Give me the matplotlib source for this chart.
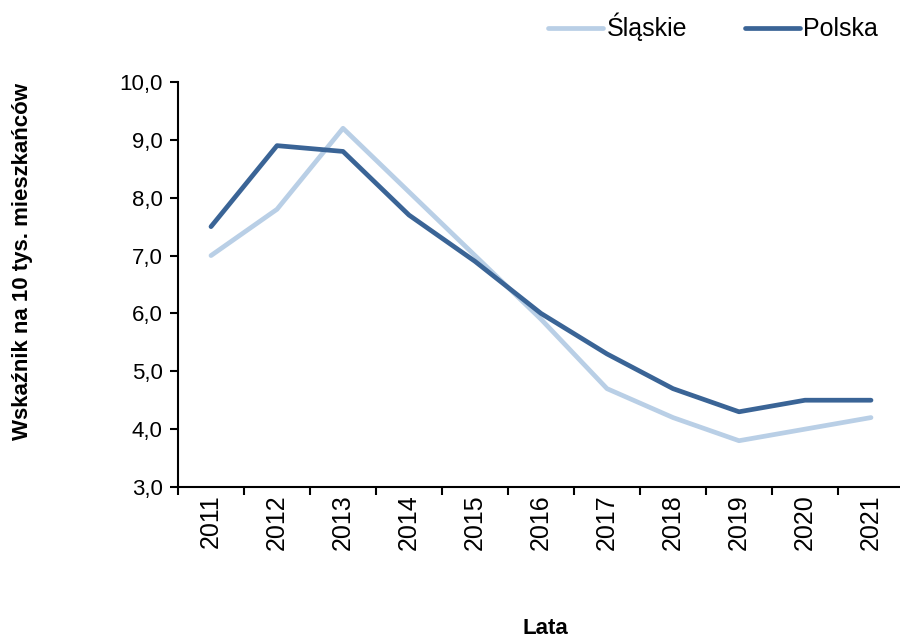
import matplotlib
matplotlib.use("Agg")
import matplotlib.pyplot as plt
from matplotlib.ticker import FixedLocator, FuncFormatter

years = ["2011", "2012", "2013", "2014", "2015", "2016", "2017", "2018", "2019", "2020", "2021"]
slaskie = [7.0, 7.8, 9.2, 8.1, 7.0, 5.9, 4.7, 4.2, 3.8, 4.0, 4.2]
polska = [7.5, 8.9, 8.8, 7.7, 6.9, 6.0, 5.3, 4.7, 4.3, 4.5, 4.5]

plt.rcParams['font.family'] = ['Liberation Sans', 'DejaVu Sans']

fig = plt.figure(figsize=(9, 6.39), dpi=100)
ax = fig.add_axes([178/900, 1-487/639, 726/900, (487-82)/639])

x = list(range(len(years)))
l1, = ax.plot(x, slaskie, color='#B9CFE6', lw=3.4, solid_capstyle='round', label='Śląskie')
l2, = ax.plot(x, polska, color='#3A6496', lw=3.4, solid_capstyle='round', label='Polska')

ax.set_xlim(-0.5, len(years)-0.5)
ax.set_ylim(3, 10)
ax.set_yticks([3, 4, 5, 6, 7, 8, 9, 10])
ax.yaxis.set_major_formatter(FuncFormatter(lambda v, p: f"{v:.1f}".replace('.', ',')))
ax.set_xticks(x)
ax.set_xticklabels(years, rotation=90)
ax.xaxis.set_minor_locator(FixedLocator([i - 0.5 for i in range(len(years)+1)]))
ax.tick_params(axis='x', which='major', length=0, pad=5, labelsize=18)
ax.tick_params(axis='x', which='minor', length=6, width=1.5, direction='out')
ax.tick_params(axis='y', length=6, width=1.5, direction='out', labelsize=16, pad=5)

for s in ['top', 'right']:
    ax.spines[s].set_visible(False)
for s in ['left', 'bottom']:
    ax.spines[s].set_linewidth(1.5)

ax.set_ylabel('Wskaźnik na 10 tys. mieszkańców', fontsize=16, fontweight='bold')
ax.yaxis.set_label_coords(-0.2, (487-262)/405)
fig.text(545/900, 1-628/639, 'Lata', fontsize=16, fontweight='bold', ha='center', va='center')

fig.legend(handles=[l1, l2], loc='center', bbox_to_anchor=(713/900, 1-27/639), ncol=2,
           frameon=False, fontsize=18, handlelength=2.2, handletextpad=0.15, columnspacing=2.3)

fig.savefig('out.png', dpi=100)
